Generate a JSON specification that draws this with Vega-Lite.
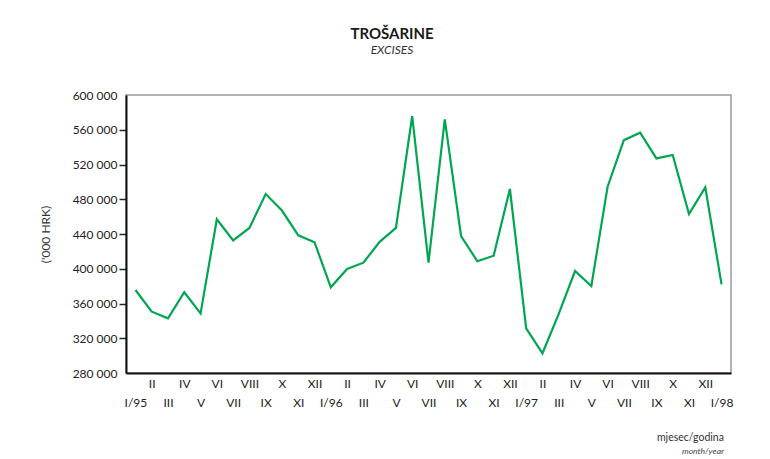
{
  "$schema": "https://vega.github.io/schema/vega-lite/v6.json",
  "background": "white",
  "padding": {"left": 38, "top": 27, "right": 35, "bottom": 0},
  "title": {
    "text": "TROŠARINE",
    "subtitle": "EXCISES",
    "anchor": "middle",
    "dx": 6,
    "font": "Lato",
    "fontSize": 15,
    "fontWeight": "bold",
    "color": "#1a1a1a",
    "subtitleFont": "Lato",
    "subtitleFontSize": 12,
    "subtitleFontStyle": "italic",
    "subtitleColor": "#333",
    "subtitlePadding": 3,
    "offset": 32
  },
  "data": {
    "values": [
      {"month": "1995-01", "value": 375500},
      {"month": "1995-02", "value": 350600},
      {"month": "1995-03", "value": 343000},
      {"month": "1995-04", "value": 373000},
      {"month": "1995-05", "value": 348700},
      {"month": "1995-06", "value": 457000},
      {"month": "1995-07", "value": 432700},
      {"month": "1995-08", "value": 447000},
      {"month": "1995-09", "value": 486000},
      {"month": "1995-10", "value": 467000},
      {"month": "1995-11", "value": 438500},
      {"month": "1995-12", "value": 430500},
      {"month": "1996-01", "value": 378600},
      {"month": "1996-02", "value": 399700},
      {"month": "1996-03", "value": 407000},
      {"month": "1996-04", "value": 431000},
      {"month": "1996-05", "value": 447000},
      {"month": "1996-06", "value": 575800},
      {"month": "1996-07", "value": 407000},
      {"month": "1996-08", "value": 572000},
      {"month": "1996-09", "value": 437700},
      {"month": "1996-10", "value": 408600},
      {"month": "1996-11", "value": 415000},
      {"month": "1996-12", "value": 491800},
      {"month": "1997-01", "value": 331400},
      {"month": "1997-02", "value": 302700},
      {"month": "1997-03", "value": 348000},
      {"month": "1997-04", "value": 397400},
      {"month": "1997-05", "value": 380000},
      {"month": "1997-06", "value": 494400},
      {"month": "1997-07", "value": 548000},
      {"month": "1997-08", "value": 556600},
      {"month": "1997-09", "value": 527000},
      {"month": "1997-10", "value": 531000},
      {"month": "1997-11", "value": 463000},
      {"month": "1997-12", "value": 493700},
      {"month": "1998-01", "value": 382000}
    ]
  },
  "vconcat": [
    {
      "width": 605,
      "height": 278,
      "title": {
        "text": "mjesec/godina",
        "subtitle": "month/year",
        "orient": "bottom",
        "anchor": "end",
        "dx": -9,
        "offset": 25,
        "font": "Lato",
        "fontSize": 10.5,
        "fontWeight": "normal",
        "color": "#333",
        "subtitleFont": "Lato",
        "subtitleFontSize": 8.5,
        "subtitleFontStyle": "italic",
        "subtitleColor": "#444",
        "subtitlePadding": 3
      },
      "mark": {"type": "line", "color": "#00a651", "strokeWidth": 2.2, "strokeJoin": "miter"},
      "encoding": {
        "x": {
          "field": "month",
          "type": "ordinal",
          "scale": {"type": "point", "padding": 0.58},
          "axis": {
            "title": null,
            "ticks": false,
            "domainColor": "#111",
            "domainWidth": 2,
            "labelAngle": 0,
            "labelFont": "Lato",
            "labelFontSize": 12,
            "labelColor": "#222",
            "labelPadding": 5,
            "labelBaseline": "top",
            "labelLineHeight": 19,
            "labelOverlap": false,
            "labelBound": false,
            "labelExpr": "(toNumber(slice(datum.value,5,7)) % 2 == 1) ? ['', (toNumber(slice(datum.value,5,7)) == 1 ? 'I/' + slice(datum.value,2,4) : ['I','II','III','IV','V','VI','VII','VIII','IX','X','XI','XII'][toNumber(slice(datum.value,5,7))-1])] : ['I','II','III','IV','V','VI','VII','VIII','IX','X','XI','XII'][toNumber(slice(datum.value,5,7))-1]"
          }
        },
        "y": {
          "field": "value",
          "type": "quantitative",
          "scale": {"domain": [280000, 600000], "nice": false, "zero": false},
          "axis": {
            "title": "('000 HRK)",
            "titleFont": "Lato",
            "titleFontSize": 12,
            "titleFontWeight": "normal",
            "titleColor": "#333",
            "titlePadding": 20,
            "values": [280000, 320000, 360000, 400000, 440000, 480000, 520000, 560000, 600000],
            "labelExpr": "floor(datum.value/1000) + ' 000'",
            "labelFont": "Lato",
            "labelFontSize": 12,
            "labelColor": "#222",
            "labelPadding": 2,
            "tickSize": 7,
            "tickWidth": 1.5,
            "tickColor": {"condition": {"test": "datum.value == 280000 || datum.value == 600000", "value": "transparent"}, "value": "#222"},
            "domainColor": "#111",
            "domainWidth": 2,
            "grid": false
          }
        }
      }
    }
  ],
  "config": {
    "view": {"stroke": "#999", "strokeWidth": 1.5},
    "font": "Lato"
  }
}
